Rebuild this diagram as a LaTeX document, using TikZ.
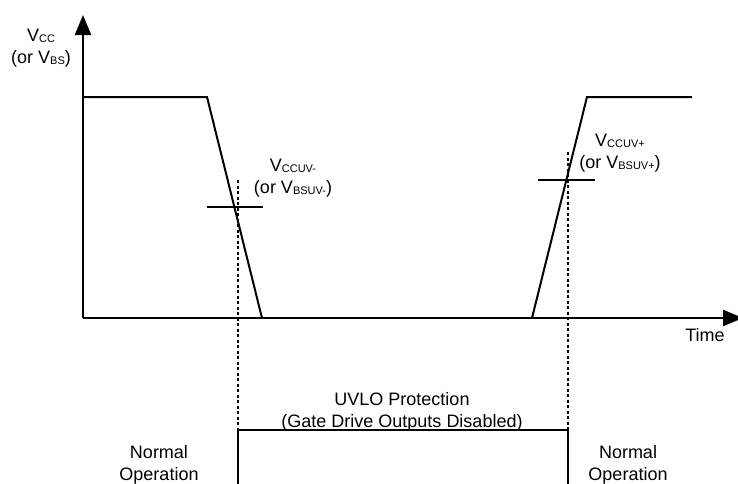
\documentclass[tikz,border=0pt]{standalone}
\usepackage{fontspec}
\setmainfont{Liberation Sans}
\usetikzlibrary{arrows.meta}
\newcommand{\vsub}[1]{\raisebox{-1pt}{\fontsize{11}{11}\selectfont #1}}
\begin{document}
\begin{tikzpicture}[x=1pt,y=-1pt,line width=2pt,>={Triangle[length=20pt,width=16pt]},
  sig/.style={line width=2pt,line join=miter},
  guide/.style={line width=2pt,dash pattern=on 3pt off 2.5pt},
  lab/.style={font=\fontsize{18}{22}\selectfont,align=center,anchor=base,inner sep=0pt}]
\useasboundingbox (0,0) rectangle (738,483);
% axes
\coordinate (o) at (83,318);
\coordinate (ytop) at (83,15);
\coordinate (xend) at (743,318);
\draw[line width=2.5pt,->] (o) -- (ytop);
\draw[line width=2.5pt,->] (o) -- (xend);
\node[lab] (vcc) at (41,63) {V\vsub{CC}\\(or V\vsub{BS})};
\node[lab] (time) at (705,341) {Time};
% supply waveform
\coordinate (h1) at (83,97);
\coordinate (f1) at (207,97);
\coordinate (f2) at (262,318);
\coordinate (r1) at (532,318);
\coordinate (r2) at (587,97);
\coordinate (h2) at (692,97);
\draw[sig] (h1) -- (f1) -- (f2);
\draw[sig] (r1) -- (r2) -- (h2);
% thresholds
\coordinate (t1a) at (207,207); \coordinate (t1b) at (263,207);
\coordinate (t2a) at (538,180); \coordinate (t2b) at (595,180);
\draw[sig] (t1a) -- (t1b);
\draw[sig] (t2a) -- (t2b);
\node[lab] (uvm) at (293,193) {V\vsub{CCUV-}\\(or V\vsub{BSUV-})};
\node[lab] (uvp) at (620,168) {V\vsub{CCUV+}\\(or V\vsub{BSUV+})};
% protection window
\coordinate (d1) at (237.5,180); \coordinate (b1) at (237.5,430); \coordinate (e1) at (237.5,490);
\coordinate (d2) at (567.5,152); \coordinate (b2) at (567.5,430); \coordinate (e2) at (567.5,490);
\draw[guide] (d1) -- (b1);
\draw[guide] (d2) -- (b2);
\draw[sig] (e1) -- (b1) -- (b2) -- (e2);
\node[lab] (uvlo) at (402,427) {UVLO Protection\\(Gate Drive Outputs Disabled)};
\node[lab] (norm1) at (159,480) {Normal\\Operation};
\node[lab] (norm2) at (628,480) {Normal\\Operation};
\end{tikzpicture}
\end{document}
